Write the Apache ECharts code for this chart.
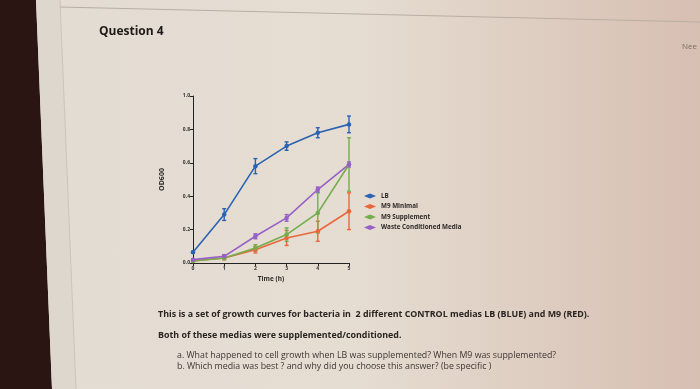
<!DOCTYPE html>
<html>
<head>
<meta charset="utf-8">
<script src="https://cdn.jsdelivr.net/npm/echarts@6/dist/echarts.min.js"></script>
<style>
  html, body { margin: 0; padding: 0; }
  #chart { width: 700px; height: 389px; background: linear-gradient(90deg, #e2dcd3 0%, #e6ddd2 50%, #d7bfb2 100%); }
</style>
</head>
<body>
<div id="chart"></div>
<script>
// growth curve data (OD600 per hour)
const hours = [0, 1, 2, 3, 4, 5];
const seriesNames = ['LB', 'M9 Minimal', 'M9 Supplement', 'Waste Conditioned Media'];
const lbValues = [0.065, 0.29, 0.58, 0.70, 0.78, 0.83];
const m9Values = [0.012, 0.03, 0.08, 0.15, 0.19, 0.31];
const m9SuppValues = [0.012, 0.03, 0.09, 0.17, 0.30, 0.59];
const wasteValues = [0.02, 0.04, 0.16, 0.27, 0.44, 0.59];
const lbErrors = [0.005, 0.035, 0.045, 0.025, 0.03, 0.05];
const m9Errors = [0.005, 0.01, 0.02, 0.045, 0.06, 0.11];
const m9SuppErrors = [0.005, 0.01, 0.02, 0.04, 0.12, 0.16];
const wasteErrors = [0.005, 0.01, 0.015, 0.02, 0.015, 0.015];
const yTicks = [0, 0.2, 0.4, 0.6, 0.8, 1.0];

const colors = ['#2b63b3', '#e8683c', '#74ad4c', '#9660c6'];
const allValues = [lbValues, m9Values, m9SuppValues, wasteValues];
const allErrors = [lbErrors, m9Errors, m9SuppErrors, wasteErrors];

var myChart = echarts.init(document.getElementById('chart'), null, { renderer: 'canvas' });

const lineSeries = seriesNames.map((name, i) => ({
  name: name,
  type: 'line',
  data: hours.map((h, j) => [h, allValues[i][j]]),
  symbol: 'circle',
  symbolSize: 4.5,
  lineStyle: { width: 1.6, color: colors[i] },
  itemStyle: { color: colors[i] },
  z: 3
}));

const errorSeries = seriesNames.map((name, i) => ({
  name: name,
  type: 'custom',
  data: hours.map((h, j) => [h, allValues[i][j] - allErrors[i][j], allValues[i][j] + allErrors[i][j]]),
  renderItem: function(params, api) {
    const lo = api.coord([api.value(0), api.value(1)]);
    const hi = api.coord([api.value(0), api.value(2)]);
    const c = 2;
    const style = { stroke: colors[i], lineWidth: 1.4 };
    return {
      type: 'group',
      children: [
        { type: 'line', shape: { x1: lo[0], y1: lo[1], x2: hi[0], y2: hi[1] }, style: style },
        { type: 'line', shape: { x1: lo[0] - c, y1: lo[1], x2: lo[0] + c, y2: lo[1] }, style: style },
        { type: 'line', shape: { x1: hi[0] - c, y1: hi[1], x2: hi[0] + c, y2: hi[1] }, style: style }
      ]
    };
  },
  z: 2
}));

var option = {
  animation: false,
  backgroundColor: 'transparent',
  textStyle: { fontFamily: 'Open Sans' },
  grid: { left: 193, right: 351, top: 96, bottom: 126 },
  legend: {
    orient: 'vertical',
    left: 359,
    top: 188,
    itemWidth: 12,
    itemHeight: 5,
    itemGap: 4.5,
    data: seriesNames.map((n, i) => ({ name: n, icon: 'diamond', itemStyle: { color: colors[i] } })),
    textStyle: { fontSize: 6.3, color: '#2e2a28', fontWeight: 'bold', padding: [0, 0, 0, 0] }
  },
  xAxis: {
    type: 'value',
    min: 0,
    max: 5,
    interval: 1,
    name: 'Time (h)',
    nameLocation: 'middle',
    nameGap: 13,
    nameTextStyle: { fontSize: 6.5, fontWeight: 'bold', color: '#2e2a28' },
    axisLine: { lineStyle: { color: '#222', width: 1 } },
    axisTick: { length: 3, lineStyle: { color: '#222' } },
    axisLabel: { fontSize: 5, fontWeight: 'bold', color: '#333', margin: 3 },
    splitLine: { show: false }
  },
  yAxis: {
    type: 'value',
    min: 0,
    max: 1,
    interval: 0.2,
    name: 'OD600',
    nameLocation: 'middle',
    nameGap: 28,
    nameRotate: 90,
    nameTextStyle: { fontSize: 7, fontWeight: 'bold', color: '#2e2a28' },
    axisLine: { show: true, lineStyle: { color: '#222', width: 1 } },
    axisTick: { show: true, length: 3, lineStyle: { color: '#222' } },
    axisLabel: { fontSize: 5, fontWeight: 'bold', color: '#333', margin: 3,
      formatter: v => yTicks.indexOf(v) >= 0 ? v.toFixed(1) : '' },
    splitLine: { show: false }
  },
  graphic: [
    { type: 'polygon', shape: { points: [[0, 0], [36, 0], [52, 389], [0, 389]] }, style: { fill: '#2a1513' }, z: 1 },
    { type: 'polygon', shape: { points: [[36, 0], [60, 0], [76, 389], [52, 389]] }, style: { fill: '#ddd7ce' }, z: 1 },
    { type: 'line', shape: { x1: 60, y1: 0, x2: 76, y2: 389 }, style: { stroke: '#cbc4ba', lineWidth: 1 }, z: 1 },
    { type: 'line', shape: { x1: 60, y1: 7, x2: 700, y2: 22 }, style: { stroke: '#b9aea4', lineWidth: 1 }, z: 1 },
    { type: 'text', left: 99, top: 26, style: { text: 'Question 4', fontSize: 12, fontWeight: 'bold', fill: '#1e1a18', fontFamily: 'Open Sans' } },
    { type: 'text', left: 682, top: 43, style: { text: 'Nee', fontSize: 8, fill: '#7a6e68', fontFamily: 'Open Sans' } },
    { type: 'text', left: 158, top: 310, style: { text: 'This is a set of growth curves for bacteria in  2 different CONTROL medias LB (BLUE) and M9 (RED).', fontSize: 8.9, fontWeight: 'bold', fill: '#2a2522', fontFamily: 'Open Sans' } },
    { type: 'text', left: 158, top: 331, style: { text: 'Both of these medias were supplemented/conditioned.', fontSize: 8.9, fontWeight: 'bold', fill: '#2a2522', fontFamily: 'Open Sans' } },
    { type: 'text', left: 177, top: 351, style: { text: 'a. What happened to cell growth when LB was supplemented? When M9 was supplemented?', fontSize: 8.8, fill: '#3d3633', fontFamily: 'Open Sans' } },
    { type: 'text', left: 177, top: 362, style: { text: 'b. Which media was best ? and why did you choose this answer? (be specific )', fontSize: 8.8, fill: '#3d3633', fontFamily: 'Open Sans' } }
  ],
  series: errorSeries.concat(lineSeries)
};

myChart.setOption(option);
</script>
</body>
</html>
